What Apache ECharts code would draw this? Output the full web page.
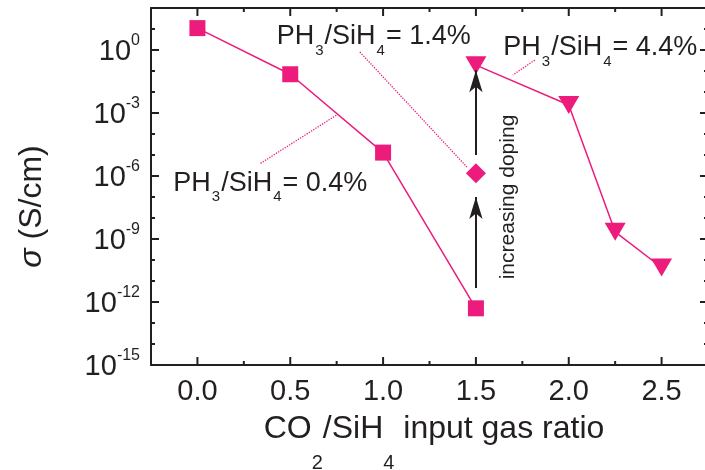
<!DOCTYPE html>
<html>
<head>
<meta charset="utf-8">
<script src="https://cdn.jsdelivr.net/npm/echarts@6/dist/echarts.min.js"></script>
<style>
  html, body { margin: 0; padding: 0; background: #fff; }
  #chart { width: 705px; height: 470px; }
</style>
</head>
<body>
<div id="chart"></div>
<script>
// Conductivity vs. CO2/SiH4 gas ratio for three phosphine doping levels
const ratioLow = [0.0, 0.5, 1.0, 1.5];
const sigmaLow = [11, 0.07, 1.3e-5, 5e-13];          // PH3/SiH4 = 0.4 %
const ratioMid = [1.5];
const sigmaMid = [1.35e-6];                           // PH3/SiH4 = 1.4 %
const ratioHigh = [1.5, 2.0, 2.25, 2.5];
const sigmaHigh = [0.19, 2.4e-3, 2.2e-9, 4.4e-11];    // PH3/SiH4 = 4.4 %

const xTickLabels = ['0.0', '0.5', '1.0', '1.5', '2.0', '2.5'];
const yTickExponents = [-15, -12, -9, -6, -3, 0];

// Tick marks on all four frame sides
const xMajorTicks = [0.0, 0.5, 1.0, 1.5, 2.0, 2.5];
const xMinorTicks = [0.25, 0.75, 1.25, 1.75, 2.25];
const yMajorTicks = [1e-12, 1e-9, 1e-6, 1e-3, 1];
const yMinorTicks = [1e-14, 1e-13, 1e-11, 1e-10, 1e-8, 1e-7, 1e-5, 1e-4, 1e-2, 1e-1, 1e1];

const X_MIN = -0.25, X_MAX = 2.75;
const Y_MIN = 1e-15, Y_MAX = 1e2;

// Annotation geometry in data units
const dopingArrows = [
  [[1.5, 4.7e-12], [1.5, 1.0e-7]],
  [[1.5, 1.0e-5], [1.5, 0.11]]
];
const leaderLines = [
  [[0.875, 0.80], [1.451, 2.7e-6]],   // 1.4 %
  [[1.817, 0.33], [1.699, 0.065]],    // 4.4 %
  [[0.340, 4.0e-6], [0.750, 8.0e-4]]  // 0.4 %
];

const PINK = '#EC1B7C';
const INK = '#231F20';
const FONT = '"Liberation Sans", Arial, sans-serif';

const GRID = { left: 151, top: 8, right: -3, bottom: 105 };

const pairs = (xs, ys) => xs.map((x, i) => [x, ys[i]]);

const axisLineStyle = { show: true, onZero: false, lineStyle: { color: INK, width: 2 } };

function xAxisDef(position, withLabels) {
  return {
    type: 'value', position: position,
    min: X_MIN, max: X_MAX, splitNumber: 6,
    splitLine: { show: false },
    axisLine: axisLineStyle,
    axisTick: { show: false },
    minorTick: { show: false },
    axisLabel: withLabels ? {
      show: true, margin: 12, fontSize: 29, color: INK, fontFamily: FONT,
      showMinLabel: false, showMaxLabel: false,
      formatter: (v) => {
        const s = v.toFixed(1);
        return xTickLabels.indexOf(s) >= 0 ? s : '';
      }
    } : { show: false }
  };
}

function yAxisDef(position, withLabels) {
  return {
    type: 'log', logBase: 10, position: position,
    min: Y_MIN, max: Y_MAX, interval: 3,
    splitLine: { show: false },
    axisLine: axisLineStyle,
    axisTick: { show: false },
    minorTick: { show: false },
    axisLabel: withLabels ? {
      show: true, margin: 11, color: INK, fontFamily: FONT,
      formatter: (v) => {
        const e = Math.round(Math.log10(v));
        return yTickExponents.indexOf(e) >= 0 ? '{b|10}{s|' + e + '}' : '';
      },
      rich: {
        b: { fontSize: 29, color: INK, fontFamily: FONT, verticalAlign: 'top', padding: [5, 0, 1, 0] },
        s: { fontSize: 16, color: INK, fontFamily: FONT, verticalAlign: 'top' }
      }
    } : { show: false }
  };
}

const xBottom = xAxisDef('bottom', true);
xBottom.name = '{b|CO}{s|2}{b|/SiH}{s|4}{b| input gas ratio}';
xBottom.nameLocation = 'middle';
xBottom.nameGap = 48;
xBottom.nameTextStyle = {
  padding: [0, 0, 0, 9],
  rich: {
    b: { fontSize: 32, color: INK, fontFamily: FONT, verticalAlign: 'top' },
    s: { fontSize: 20, color: INK, fontFamily: FONT, verticalAlign: 'top', padding: [40, 0, 0, 0] }
  }
};

const yLeft = yAxisDef('left', true);
yLeft.name = '{i|σ}{t| (S/cm)}';
yLeft.nameLocation = 'middle';
yLeft.nameRotate = 90;
yLeft.nameGap = 103;
yLeft.nameTextStyle = {
  padding: [0, 40, 0, 0],
  rich: {
    i: { fontSize: 32, color: INK, fontFamily: FONT, fontStyle: 'italic' },
    t: { fontSize: 32, color: INK, fontFamily: FONT }
  }
};

const annoRich = {
  b: { fontSize: 27, fontFamily: FONT, fill: INK, verticalAlign: 'top' },
  s: { fontSize: 15, fontFamily: FONT, fill: INK, verticalAlign: 'top', padding: [20, 1, 0, 1] }
};
const annoText = (pct) => '{b|PH}{s|3}{b|/SiH}{s|4}{b|= ' + pct + '}';

const markLineData = [];
dopingArrows.forEach(([a, b]) => markLineData.push([
  { coord: a, symbol: 'none', lineStyle: { color: INK, width: 2, type: 'solid' } },
  { coord: b, symbol: 'arrow', symbolSize: [10, 22] }
]));
leaderLines.forEach(([a, b]) => markLineData.push([
  { coord: a, symbol: 'none', lineStyle: { color: PINK, width: 1.3, type: 'dotted' } },
  { coord: b, symbol: 'none' }
]));

const option = {
  animation: false,
  backgroundColor: '#fff',
  textStyle: { fontFamily: FONT },
  grid: Object.assign({ containLabel: false, outerBoundsMode: 'none' }, GRID),
  xAxis: [xBottom, xAxisDef('top', false)],
  yAxis: [yLeft, yAxisDef('right', false)],
  series: [
    {
      name: 'PH3/SiH4 = 0.4%', type: 'line',
      data: pairs(ratioLow, sigmaLow),
      symbol: 'rect', symbolSize: 16,
      lineStyle: { color: PINK, width: 1.5 }, itemStyle: { color: PINK }
    },
    {
      name: 'PH3/SiH4 = 1.4%', type: 'line',
      data: pairs(ratioMid, sigmaMid),
      symbol: 'diamond', symbolSize: 20,
      lineStyle: { color: PINK, width: 1.5 }, itemStyle: { color: PINK }
    },
    {
      name: 'PH3/SiH4 = 4.4%', type: 'line',
      data: pairs(ratioHigh, sigmaHigh),
      symbol: 'triangle', symbolRotate: 180, symbolSize: [21, 18],
      lineStyle: { color: PINK, width: 1.5 }, itemStyle: { color: PINK }
    },
    {
      name: 'annotations', type: 'scatter',
      data: [], silent: true,
      markLine: {
        silent: true, animation: false,
        symbol: ['none', 'none'],
        label: { show: false },
        emphasis: { disabled: true },
        data: markLineData
      }
    }
  ],
  graphic: [
    { type: 'text', id: 'note-14', x: 276.7, y: 23, silent: true,
      style: { text: annoText('1.4%'), rich: annoRich, align: 'left', verticalAlign: 'top' } },
    { type: 'text', id: 'note-44', x: 503.3, y: 34.3, silent: true,
      style: { text: annoText('4.4%'), rich: annoRich, align: 'left', verticalAlign: 'top' } },
    { type: 'text', id: 'note-04', x: 173.3, y: 169.7, silent: true,
      style: { text: annoText('0.4%'), rich: annoRich, align: 'left', verticalAlign: 'top' } },
    { type: 'text', id: 'note-doping', x: 508, y: 197, rotation: Math.PI / 2, silent: true,
      style: { text: 'increasing doping', fontSize: 21, fontFamily: FONT, fill: INK,
               align: 'center', verticalAlign: 'middle' } }
  ]
};

const chart = echarts.init(document.getElementById('chart'), null, { renderer: 'canvas' });
chart.setOption(option);

// Pixel mapping for the frame ticks: the grid's own conversion, with the
// linear / log layout of the frame as a fallback
const chartW = chart.getWidth(), chartH = chart.getHeight();
const plotW = chartW - GRID.left - GRID.right;
const plotH = chartH - GRID.top - GRID.bottom;
function toPx(x, y) {
  let p = null;
  try { p = chart.convertToPixel({ xAxisIndex: 0, yAxisIndex: 0 }, [x, y]); } catch (e) { p = null; }
  if (!p || !isFinite(p[0]) || !isFinite(p[1])) {
    const lx = GRID.left + (x - X_MIN) / (X_MAX - X_MIN) * plotW;
    const ly = GRID.top + (Math.log10(Y_MAX) - Math.log10(y)) /
      (Math.log10(Y_MAX) - Math.log10(Y_MIN)) * plotH;
    p = [lx, ly];
  }
  return p;
}

// Inward ticks drawn as thin filled bars on all four sides
const tickEls = [];
function addTicks(values, dim, len) {
  values.forEach((v) => {
    let bars;
    if (dim === 'x') {
      const a = toPx(v, Y_MIN), b = toPx(v, Y_MAX);
      bars = [
        { x: a[0] - 1, y: a[1] - len, width: 2, height: len },
        { x: b[0] - 1, y: b[1], width: 2, height: len }
      ];
    } else {
      const a = toPx(X_MIN, v), b = toPx(X_MAX, v);
      bars = [
        { x: a[0], y: a[1] - 1, width: len, height: 2 },
        { x: b[0] - len, y: b[1] - 1, width: len, height: 2 }
      ];
    }
    bars.forEach((r) => tickEls.push({
      type: 'rect', id: 'tick-' + tickEls.length, silent: true, z: 100,
      shape: r, style: { fill: INK }
    }));
  });
}
addTicks(xMajorTicks, 'x', 8);
addTicks(xMinorTicks, 'x', 4);
addTicks(yMajorTicks, 'y', 8);
addTicks(yMinorTicks, 'y', 4);
chart.setOption({ graphic: tickEls });
</script>
</body>
</html>
